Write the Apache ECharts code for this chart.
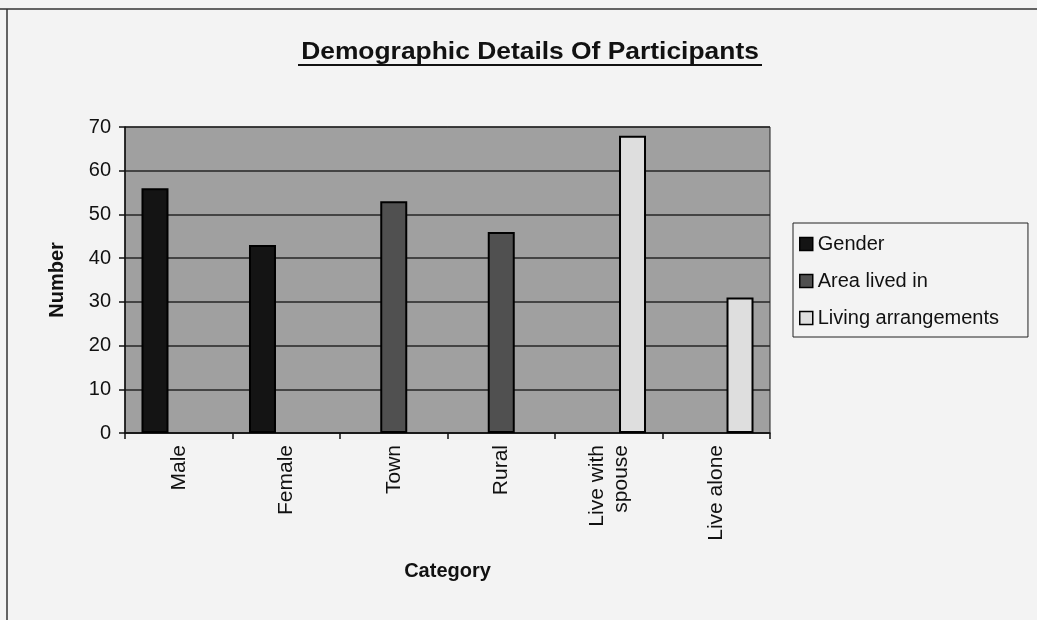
<!DOCTYPE html>
<html>
<head>
<meta charset="utf-8">
<script src="https://cdn.jsdelivr.net/npm/echarts@6/dist/echarts.min.js"></script>
<style>
html,body{margin:0;padding:0;background:#f3f3f3;}
#chart{width:1037px;height:620px;}
</style>
</head>
<body>
<div id="chart"></div>
<script>
const categories = ['Male', 'Female', 'Town', 'Rural', 'Live with\nspouse', 'Live alone'];
const seriesNames = ['Gender', 'Area lived in', 'Living arrangements'];
const gender = [56, 43, null, null, null, null];
const areaLivedIn = [null, null, 53, 46, null, null];
const livingArrangements = [null, null, null, null, 68, 31];
const yTicks = [0, 10, 20, 30, 40, 50, 60, 70];
const titleText = 'Demographic Details Of Participants';

const colors = ['#141414', '#505050', '#dedede'];
const chart = echarts.init(document.getElementById('chart'));
const fontFam = 'Liberation Sans, Arial, sans-serif';

function barSeries(name, data, color) {
  return {
    name: name, type: 'bar', data: data,
    barWidth: 27, barGap: '-12%',
    itemStyle: { color: color, borderColor: '#000', borderWidth: 2 },
    emphasis: { disabled: true }
  };
}

chart.setOption({
  backgroundColor: '#f3f3f3',
  animation: false,
  legend: {
    orient: 'vertical',
    left: 793, top: 223,
    padding: [11, 29, 9, 6],
    itemGap: 17,
    itemWidth: 13, itemHeight: 13,
    backgroundColor: '#f3f3f3',
    borderColor: '#222', borderWidth: 1,
    textStyle: { fontFamily: fontFam, fontSize: 20, color: '#111' },
    itemStyle: { borderColor: '#000', borderWidth: 1.5 },
    data: seriesNames.map(n => ({ name: n, icon: 'rect' }))
  },
  grid: { left: 125, right: 267, top: 127, bottom: 187, show: true, backgroundColor: '#a0a0a0', borderColor: '#222', borderWidth: 1 },
  xAxis: {
    type: 'category',
    data: categories,
    name: 'Category', nameLocation: 'middle', nameGap: 128,
    nameTextStyle: { fontFamily: fontFam, fontWeight: 'bold', fontSize: 20, color: '#111' },
    axisLine: { lineStyle: { color: '#111', width: 1.5 } },
    axisTick: { show: true, length: 6, lineStyle: { color: '#111', width: 1.5 } },
    axisLabel: { rotate: 90, margin: 12, fontFamily: fontFam, fontSize: 21, color: '#111', lineHeight: 24 }
  },
  yAxis: {
    type: 'value',
    min: 0, max: 70, interval: 10,
    name: 'Number', nameLocation: 'middle', nameGap: 58, nameRotate: 90,
    nameTextStyle: { fontFamily: fontFam, fontWeight: 'bold', fontSize: 20, color: '#111' },
    axisLine: { show: true, lineStyle: { color: '#111', width: 1.5 } },
    axisTick: { show: true, length: 6, lineStyle: { color: '#111', width: 1.5 } },
    axisLabel: { margin: 14, fontFamily: fontFam, fontSize: 20, color: '#111',
      formatter: v => yTicks.includes(v) ? String(v) : '' },
    splitLine: { show: true, lineStyle: { color: '#262626', width: 1.6 } }
  },
  series: [
    barSeries(seriesNames[0], gender, colors[0]),
    barSeries(seriesNames[1], areaLivedIn, colors[1]),
    barSeries(seriesNames[2], livingArrangements, colors[2])
  ],
  graphic: [
    { type: 'line', shape: { x1: 0, y1: 9, x2: 1037, y2: 9 }, style: { stroke: '#333', lineWidth: 1.5 } },
    { type: 'line', shape: { x1: 7, y1: 9, x2: 7, y2: 620 }, style: { stroke: '#333', lineWidth: 1.5 } },
    { type: 'text', x: 530, y: 52, scaleX: 1.1,
      style: { text: titleText, x: 0, y: 0, align: 'center', verticalAlign: 'middle',
        font: 'bold 24px Liberation Sans, Arial, sans-serif', fill: '#111' } },
    { type: 'line', shape: { x1: 298, y1: 65, x2: 762, y2: 65 }, style: { stroke: '#111', lineWidth: 2 } }
  ]
});
</script>
</body>
</html>
